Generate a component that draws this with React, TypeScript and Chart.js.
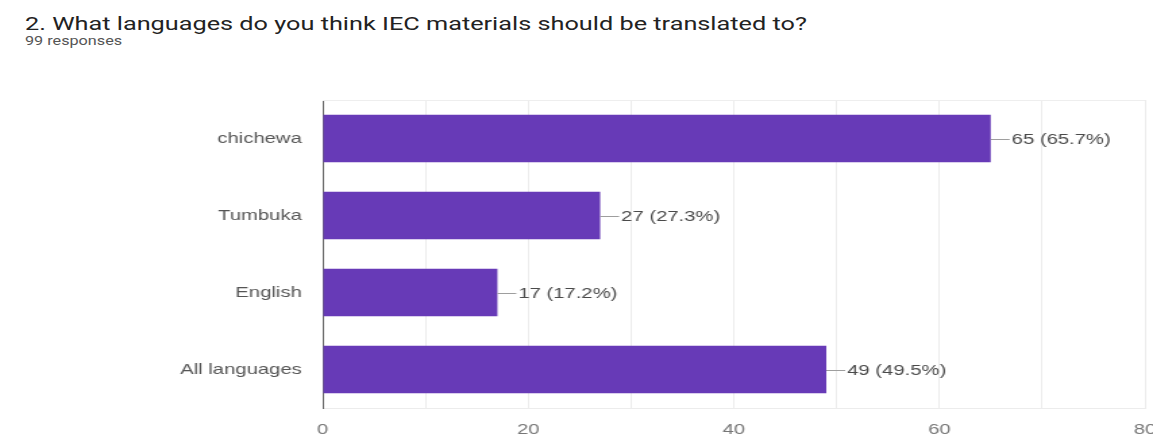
import React, { useEffect, useRef } from "react";
import { Chart, registerables } from "chart.js";

Chart.register(...registerables);

const title = "2. What languages do you think IEC materials should be translated to?";
const subtitle = "99 responses";
const totalResponses = 99;
const categories = ["chichewa", "Tumbuka", "English", "All languages"];
const counts = [65, 27, 17, 49];
const xTickMax = 80;
const xGridStep = 10;
const xLabelStep = 20;

const BAR_COLOR = "#673ab7";
const CHART_FONT = "'Liberation Sans', Arial, sans-serif";
const PAGE_W = 1153;
const PAGE_H = 437;
const CANVAS_W = 854; // rendered, then stretched horizontally to the page width
const STRETCH = PAGE_W / CANVAS_W;

const valueLabels = {
  id: "valueLabels",
  afterDatasetsDraw(chart: any) {
    const ctx = chart.ctx;
    const meta = chart.getDatasetMeta(0);
    ctx.save();
    ctx.font = `15px ${CHART_FONT}`;
    ctx.textBaseline = "middle";
    ctx.textAlign = "left";
    meta.data.forEach((bar: any, i: number) => {
      const v = counts[i];
      const pct = ((v / totalResponses) * 100).toFixed(1);
      const x = bar.x;
      const y = bar.y;
      ctx.strokeStyle = "#9e9e9e";
      ctx.lineWidth = 1;
      ctx.beginPath();
      ctx.moveTo(x, Math.round(y) + 0.5);
      ctx.lineTo(x + 14, Math.round(y) + 0.5);
      ctx.stroke();
      ctx.fillStyle = "#4a4a4a";
      ctx.fillText(`${v} (${pct}%)`, x + 15.5, y + 1);
    });
    ctx.restore();
  },
};

const topBorder = {
  id: "topBorder",
  beforeDatasetsDraw(chart: any) {
    const { ctx, chartArea } = chart;
    ctx.save();
    ctx.strokeStyle = "#eeeeee";
    ctx.lineWidth = 1;
    ctx.beginPath();
    ctx.moveTo(chartArea.left, chartArea.top + 0.5);
    ctx.lineTo(chartArea.right, chartArea.top + 0.5);
    ctx.stroke();
    ctx.restore();
  },
};

export default function App() {
  const canvasRef = useRef<HTMLCanvasElement | null>(null);

  useEffect(() => {
    document.body.style.margin = "0";
    const canvas = canvasRef.current;
    if (!canvas) return;
    const chart = new Chart(canvas, {
      type: "bar",
      data: {
        labels: categories,
        datasets: [
          {
            data: counts,
            backgroundColor: BAR_COLOR,
            borderWidth: 0,
            barPercentage: 0.62,
            categoryPercentage: 1,
          },
        ],
      },
      options: {
        indexAxis: "y",
        responsive: false,
        maintainAspectRatio: false,
        animation: false,
        layout: { padding: { top: 100, right: 6, left: 0, bottom: 0 } },
        plugins: {
          legend: { display: false },
          tooltip: { enabled: false },
          title: { display: false },
        },
        scales: {
          x: {
            min: 0,
            max: xTickMax,
            ticks: {
              stepSize: xGridStep,
              padding: 13,
              color: "#777",
              font: { family: CHART_FONT, size: 15 },
              maxRotation: 0,
              autoSkip: false,
              callback: (v: any) => (Number(v) % xLabelStep === 0 ? String(v) : ""),
            },
            grid: { color: "#ececec", drawTicks: false },
            border: { display: true, color: "#ececec" },
            afterFit: (s: any) => {
              s.height = 29;
              s.paddingRight = 0;
              s.paddingLeft = 0;
            },
          },
          y: {
            ticks: {
              padding: 15.5,
              color: "#555",
              font: { family: CHART_FONT, size: 15 },
            },
            grid: { display: false, drawTicks: false },
            border: { display: true, color: "#666", width: 1 },
            afterFit: (s: any) => {
              s.width = 239;
            },
          },
        },
      },
      plugins: [topBorder, valueLabels],
    });
    return () => chart.destroy();
  }, []);

  return (
    <div style={{ position: "relative", width: PAGE_W, height: PAGE_H, background: "#fff", overflow: "hidden" }}>
      <div
        style={{
          position: "absolute",
          left: 25,
          top: 12,
          fontFamily: "Roboto, Arial, sans-serif",
          fontSize: 19,
          color: "#222",
          whiteSpace: "nowrap",
          transform: "scaleX(1.33)",
          transformOrigin: "left top",
        }}
      >
        {title}
      </div>
      <div
        style={{
          position: "absolute",
          left: 25,
          top: 34,
          fontFamily: "Roboto, Arial, sans-serif",
          fontSize: 12,
          color: "#555",
          whiteSpace: "nowrap",
          transform: `scaleX(${STRETCH})`,
          transformOrigin: "left top",
        }}
      >
        {subtitle}
      </div>
      <div
        style={{
          position: "absolute",
          left: 0,
          top: 0,
          width: CANVAS_W,
          height: PAGE_H,
          transform: `scaleX(${STRETCH})`,
          transformOrigin: "left top",
        }}
      >
        <canvas ref={canvasRef} width={CANVAS_W} height={PAGE_H} style={{ display: "block", width: CANVAS_W, height: PAGE_H }} />
      </div>
    </div>
  );
}
